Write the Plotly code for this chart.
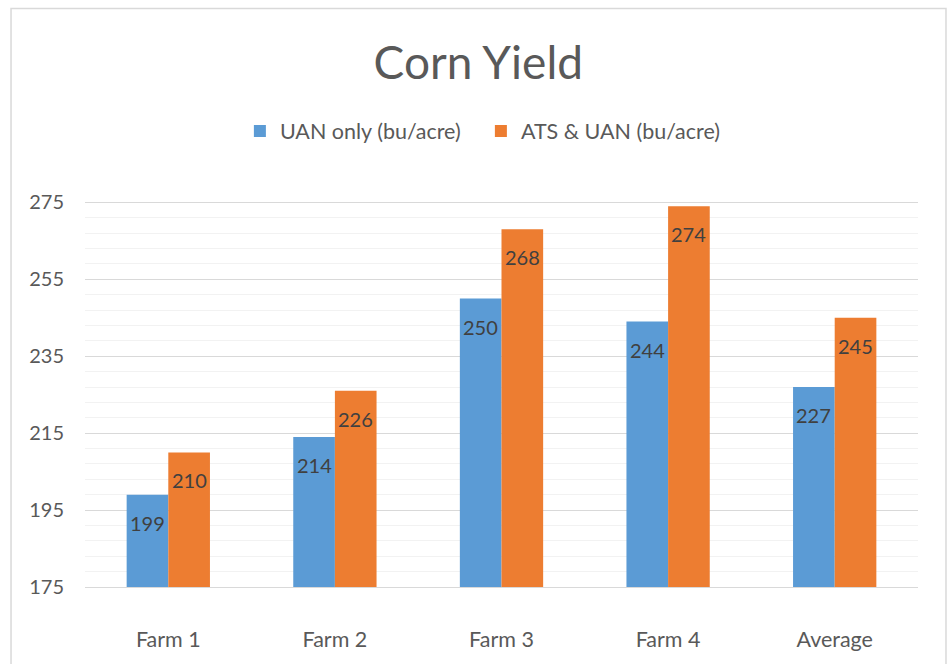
import plotly.graph_objects as go

categories = ["Farm 1", "Farm 2", "Farm 3", "Farm 4", "Average"]
uan_only = [199, 214, 250, 244, 227]
ats_uan = [210, 226, 268, 274, 245]
series_names = ["UAN only (bu/acre)", "ATS & UAN (bu/acre)"]
y_ticks = [175, 195, 215, 235, 255, 275]

FONT = "Lato"
fig = go.Figure()
fig.add_trace(go.Bar(x=categories, y=uan_only, name=series_names[0],
                     marker=dict(color="#5b9bd5", line=dict(width=0))))
fig.add_trace(go.Bar(x=categories, y=ats_uan, name=series_names[1],
                     marker=dict(color="#ed7d31", line=dict(width=0))))

# data labels (inside end)
for vals, shift in ((uan_only, -20.8), (ats_uan, 20.8)):
    for c, v in zip(categories, vals):
        fig.add_annotation(x=c, y=v, xref="x", yref="y", text=str(v), showarrow=False,
                           xshift=shift, yshift=-28, yanchor="middle", xanchor="center",
                           font=dict(color="#404040", size=20, family=FONT))

fig.update_layout(
    width=950, height=664,
    margin=dict(l=85, r=32, t=187, b=77, autoexpand=False),
    paper_bgcolor="white", plot_bgcolor="white",
    font=dict(family=FONT, color="#595959"),
    barmode="group", bargap=0.5, bargroupgap=0,
    title=dict(text="Corn Yield", x=0.5035, xref="container", xanchor="center", y=0.906, yanchor="middle",
               font=dict(size=46, color="#595959", family=FONT)),
    legend=dict(orientation="h", xref="container", yref="container",
                x=0.5062, xanchor="center", y=0.8027, yanchor="middle",
                font=dict(size=21.5, color="#595959", family=FONT),
                itemwidth=30, traceorder="normal", entrywidth=196, entrywidthmode="pixels"),
    showlegend=True,
)
fig.update_yaxes(range=[175, 279], tickvals=y_ticks, showgrid=True, gridcolor="#d9d9d9",
                 gridwidth=1, zeroline=False, showline=False,
                 tickfont=dict(size=20, color="#595959", family=FONT),
                 ticks="outside", ticklen=16, tickcolor="rgba(0,0,0,0)",
                 minor=dict(dtick=4, tick0=175, showgrid=True, gridcolor="#f2f2f2", gridwidth=1))
fig.update_xaxes(showline=True, linecolor="#d9d9d9", linewidth=1,
                 tickfont=dict(size=21.5, color="#595959", family=FONT),
                 ticks="outside", ticklen=33, tickcolor="rgba(0,0,0,0)")

fig.add_shape(type="rect", xref="paper", yref="paper",
              x0=-0.0888, x1=1.0336, y0=-0.25, y1=1.446,
              line=dict(color="#d9d9d9", width=1.5), fillcolor="rgba(0,0,0,0)", layer="below")

fig.write_html("out.html", config={"displayModeBar": False},
               post_script="document.body.style.margin='0';")
